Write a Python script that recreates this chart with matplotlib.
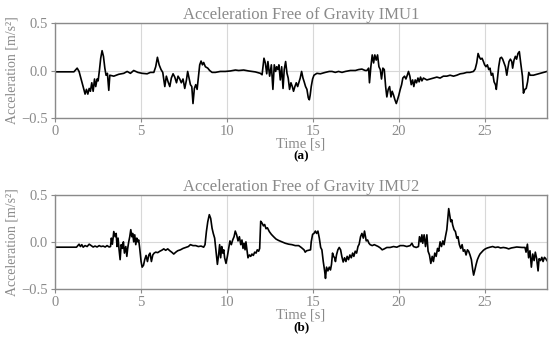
import matplotlib
matplotlib.use("Agg")
import matplotlib.pyplot as plt

# IMU1: time [s] and acceleration [m/s^2]
t1 = [0.0, 0.5, 1.1, 1.29, 1.4, 1.52, 1.6, 1.68, 1.75, 1.83, 1.91, 1.99, 2.06, 2.14, 2.22, 2.3,
      2.37, 2.45, 2.51, 2.59, 2.66, 2.74, 2.82, 2.9, 2.97, 3.05, 3.13, 3.19, 3.42, 3.71, 4.0,
      4.2, 4.39, 4.58, 4.82, 5.07, 5.36, 5.55, 5.75, 5.86, 5.96, 6.06, 6.17, 6.27, 6.39, 6.48,
      6.58, 6.68, 6.77, 6.87, 6.97, 7.07, 7.16, 7.26, 7.35, 7.45, 7.55, 7.65, 7.72, 7.8, 7.88,
      7.96, 8.03, 8.11, 8.19, 8.27, 8.34, 8.42, 8.5, 8.58, 8.65, 8.75, 8.89, 9.0, 9.14, 9.33,
      9.62, 9.91, 10.2, 10.5, 10.69, 10.98, 11.27, 11.66, 11.95, 12.05, 12.16, 12.24, 12.32,
      12.39, 12.49, 12.59, 12.68, 12.76, 12.84, 12.9, 12.97, 13.03, 13.11, 13.19, 13.27, 13.34,
      13.42, 13.5, 13.57, 13.65, 13.73, 13.81, 13.88, 13.96, 14.04, 14.12, 14.2, 14.27, 14.35,
      14.43, 14.5, 14.58, 14.66, 14.74, 14.8, 14.85, 14.91, 14.99, 15.07, 15.24, 15.44, 15.73,
      15.96, 16.12, 16.31, 16.5, 16.7, 16.9, 17.19, 17.48, 17.67, 17.86, 18.05, 18.15, 18.25,
      18.3, 18.38, 18.46, 18.54, 18.61, 18.69, 18.77, 18.85, 18.93, 19.0, 19.08, 19.16, 19.24,
      19.31, 19.39, 19.47, 19.55, 19.62, 19.7, 19.78, 19.86, 19.93, 20.01, 20.09, 20.17, 20.24,
      20.34, 20.42, 20.5, 20.57, 20.65, 20.73, 20.81, 20.88, 20.96, 21.04, 21.12, 21.19, 21.27,
      21.35, 21.44, 21.64, 21.83, 22.03, 22.22, 22.41, 22.6, 22.8, 22.99, 23.19, 23.38, 23.58,
      23.77, 23.96, 24.15, 24.35, 24.45, 24.54, 24.62, 24.7, 24.77, 24.85, 24.93, 25.0, 25.08,
      25.16, 25.24, 25.31, 25.39, 25.47, 25.55, 25.63, 25.68, 25.74, 25.82, 25.9, 25.98, 26.05,
      26.13, 26.21, 26.29, 26.34, 26.42, 26.5, 26.58, 26.63, 26.71, 26.79, 26.86, 26.94, 27.02,
      27.1, 27.2, 27.26, 27.34, 27.42, 27.5, 27.57, 27.65, 27.84, 28.04, 28.23, 28.43, 28.63]
a1 = [-0.014, -0.014, -0.014, 0.025, -0.01, -0.09, -0.14, -0.2, -0.25, -0.2, -0.25, -0.19,
      -0.22, -0.13, -0.22, -0.09, -0.17, -0.09, -0.11, 0.01, 0.13, 0.21, 0.15, 0.025, -0.05,
      -0.03, -0.21, -0.05, -0.06, -0.04, -0.03, -0.01, -0.03, 0.0, -0.02, -0.03, -0.035, -0.02,
      -0.02, 0.04, 0.14, 0.06, 0.01, -0.02, -0.17, -0.06, -0.12, -0.17, -0.08, -0.035, -0.07,
      -0.13, -0.06, -0.09, -0.13, -0.09, -0.19, -0.1, -0.01, -0.08, -0.15, -0.17, -0.35, -0.19,
      -0.15, -0.2, -0.08, 0.06, 0.1, 0.06, 0.085, 0.04, 0.025, 0.0, -0.02, -0.02, -0.01, -0.01,
      -0.005, 0.005, 0.0, 0.005, -0.005, -0.015, -0.03, -0.045, 0.13, 0.08, -0.035, 0.095, -0.06,
      0.06, -0.2, 0.06, -0.01, 0.04, 0.01, 0.06, -0.1, 0.04, -0.19, 0.01, 0.095, -0.03, -0.08,
      -0.2, -0.13, -0.17, -0.22, -0.17, -0.13, -0.17, -0.12, -0.08, -0.01, -0.08, -0.12, -0.17,
      -0.2, -0.29, -0.31, -0.26, -0.17, -0.09, -0.05, -0.03, -0.035, -0.02, -0.01, -0.01, -0.02,
      -0.01, -0.02, -0.01, 0.0, 0.0, 0.01, 0.015, 0.0, 0.0, 0.025, -0.13, 0.04, 0.165, 0.08,
      0.165, 0.11, 0.165, 0.04, 0.01, -0.09, 0.025, 0.01, -0.17, -0.28, -0.2, -0.17, -0.28,
      -0.22, -0.26, -0.31, -0.35, -0.31, -0.26, -0.2, -0.15, -0.08, -0.06, -0.09, -0.05, -0.01,
      -0.06, -0.15, -0.1, -0.17, -0.1, -0.13, -0.08, -0.12, -0.07, -0.11, -0.08, -0.1, -0.09,
      -0.08, -0.07, -0.08, -0.06, -0.06, -0.05, -0.06, -0.05, -0.035, -0.03, -0.02, -0.02,
      -0.01, 0.015, 0.08, 0.18, 0.14, 0.12, 0.13, 0.095, 0.06, 0.04, 0.06, 0.01, 0.025, -0.05,
      -0.03, -0.12, -0.15, -0.2, -0.1, 0.04, 0.13, 0.14, 0.12, 0.08, 0.04, -0.05, 0.01, 0.095,
      0.12, 0.095, 0.025, 0.11, 0.15, 0.12, 0.18, 0.2, 0.08, -0.06, -0.24, -0.2, -0.19, -0.12,
      -0.02, -0.05, -0.05, -0.04, -0.03, -0.02, -0.01]

# IMU2: time [s] and acceleration [m/s^2]
t2 = [0.0, 0.6, 1.25, 1.33, 1.4, 1.48, 1.56, 1.64, 1.75, 1.87, 1.99, 2.1, 2.22, 2.33, 2.45,
      2.57, 2.68, 2.8, 2.92, 3.03, 3.15, 3.23, 3.28, 3.34, 3.42, 3.5, 3.56, 3.61, 3.67, 3.73,
      3.79, 3.85, 3.92, 3.98, 4.04, 4.12, 4.18, 4.23, 4.29, 4.35, 4.41, 4.47, 4.52, 4.58, 4.64,
      4.7, 4.76, 4.82, 4.87, 4.93, 5.01, 5.07, 5.15, 5.22, 5.3, 5.38, 5.46, 5.53, 5.61, 5.69,
      5.77, 5.86, 5.98, 6.1, 6.21, 6.33, 6.44, 6.56, 6.68, 6.79, 6.91, 7.03, 7.14, 7.3, 7.45,
      7.61, 7.76, 7.88, 8.03, 8.19, 8.34, 8.5, 8.65, 8.73, 8.81, 8.89, 8.98, 9.06, 9.14, 9.21,
      9.29, 9.37, 9.45, 9.52, 9.58, 9.64, 9.7, 9.76, 9.82, 9.87, 9.95, 10.03, 10.11, 10.18,
      10.26, 10.34, 10.42, 10.49, 10.57, 10.65, 10.73, 10.81, 10.88, 10.94, 11.0, 11.06, 11.11,
      11.17, 11.23, 11.31, 11.39, 11.46, 11.54, 11.62, 11.7, 11.77, 11.85, 11.91, 11.97, 12.05,
      12.13, 12.2, 12.28, 12.36, 12.47, 12.59, 12.72, 12.86, 13.01, 13.21, 13.4, 13.6, 13.79,
      13.98, 14.18, 14.33, 14.49, 14.56, 14.64, 14.76, 14.87, 14.91, 14.99, 15.07, 15.15,
      15.22, 15.3, 15.38, 15.46, 15.53, 15.61, 15.69, 15.74, 15.8, 15.88, 15.96, 16.03, 16.09,
      16.15, 16.21, 16.27, 16.32, 16.38, 16.46, 16.54, 16.62, 16.69, 16.77, 16.85, 16.93, 17.0,
      17.08, 17.16, 17.24, 17.32, 17.39, 17.47, 17.55, 17.63, 17.7, 17.78, 17.86, 17.94, 18.01,
      18.05, 18.11, 18.19, 18.27, 18.34, 18.46, 18.58, 18.69, 18.81, 18.93, 19.04, 19.16, 19.31,
      19.5, 19.7, 19.89, 20.09, 20.28, 20.47, 20.67, 20.77, 20.86, 21.02, 21.15, 21.21, 21.29,
      21.35, 21.4, 21.48, 21.56, 21.64, 21.71, 21.79, 21.87, 21.95, 22.02, 22.1, 22.18, 22.26,
      22.33, 22.41, 22.49, 22.57, 22.64, 22.72, 22.8, 22.86, 22.91, 22.97, 23.03, 23.09, 23.14,
      23.22, 23.3, 23.38, 23.45, 23.53, 23.61, 23.69, 23.76, 23.84, 23.92, 24.0, 24.07, 24.15,
      24.23, 24.31, 24.36, 24.42, 24.5, 24.58, 24.66, 24.73, 24.83, 24.93, 25.04, 25.16, 25.31,
      25.47, 25.62, 25.78, 25.93, 26.09, 26.25, 26.4, 26.56, 26.71, 26.87, 27.02, 27.18, 27.35,
      27.41, 27.49, 27.56, 27.64, 27.72, 27.8, 27.88, 27.95, 28.03, 28.11, 28.17, 28.25, 28.33,
      28.4, 28.48, 28.56, 28.63]
a2 = [-0.057, -0.057, -0.057, -0.04, -0.025, -0.05, -0.03, -0.057, -0.04, -0.05, -0.025,
      -0.04, -0.055, -0.045, -0.055, -0.04, -0.05, -0.045, -0.055, -0.04, -0.055, -0.05, 0.04,
      -0.025, 0.11, 0.055, 0.09, -0.05, 0.04, -0.085, -0.19, -0.03, -0.07, 0.0, -0.12, -0.05,
      -0.155, -0.07, 0.0, 0.055, 0.13, 0.055, 0.09, 0.0, 0.075, -0.03, 0.04, 0.0, 0.02, -0.07,
      -0.21, -0.27, -0.25, -0.19, -0.145, -0.21, -0.14, -0.12, -0.21, -0.14, -0.12, -0.11,
      -0.115, -0.1, -0.09, -0.075, -0.09, -0.075, -0.095, -0.11, -0.13, -0.11, -0.095, -0.085,
      -0.07, -0.06, -0.05, -0.03, -0.04, -0.04, -0.05, -0.045, -0.057, -0.03, 0.11, 0.215, 0.29,
      0.25, 0.145, 0.09, 0.04, -0.1, -0.24, -0.14, -0.03, -0.17, -0.05, -0.12, -0.085, -0.17,
      -0.23, -0.155, -0.07, 0.01, -0.03, 0.02, 0.055, 0.115, 0.075, 0.01, 0.055, -0.03, 0.02,
      -0.07, -0.015, -0.085, 0.0, -0.085, -0.17, -0.14, -0.155, -0.13, -0.145, -0.11, -0.12,
      -0.085, -0.1, -0.07, 0.22, 0.2, 0.17, 0.185, 0.14, 0.15, 0.11, 0.08, 0.055, 0.03, 0.015,
      0.0, -0.015, -0.025, -0.03, -0.04, -0.04, -0.06, -0.085, -0.11, -0.095, -0.09, -0.085,
      0.0, 0.08, 0.09, 0.115, 0.09, 0.115, 0.04, -0.06, -0.085, -0.21, -0.31, -0.39, -0.27,
      -0.31, -0.27, -0.3, -0.24, -0.12, -0.155, -0.17, -0.21, -0.14, -0.085, -0.06, -0.085,
      -0.155, -0.215, -0.17, -0.21, -0.155, -0.19, -0.14, -0.17, -0.12, -0.155, -0.1, -0.12,
      -0.05, -0.025, 0.055, 0.09, 0.04, 0.115, 0.075, 0.01, 0.02, -0.015, -0.03, -0.04, -0.03,
      -0.04, -0.05, -0.065, -0.085, -0.075, -0.06, -0.06, -0.05, -0.057, -0.04, -0.04, -0.05,
      -0.04, -0.015, -0.05, -0.06, -0.05, 0.055, 0.0, 0.075, -0.015, 0.075, -0.05, 0.075, -0.1,
      -0.14, -0.23, -0.155, -0.21, -0.12, -0.155, -0.07, -0.1, 0.0, -0.05, 0.01, -0.03, 0.055,
      0.13, 0.25, 0.355, 0.285, 0.215, 0.235, 0.18, 0.13, 0.11, 0.04, 0.055, -0.03, -0.07, -0.03,
      -0.1, -0.085, -0.14, -0.085, -0.1, -0.14, -0.19, -0.3, -0.355, -0.31, -0.245, -0.19,
      -0.155, -0.13, -0.11, -0.09, -0.075, -0.065, -0.057, -0.05, -0.06, -0.055, -0.065, -0.06,
      -0.065, -0.075, -0.065, -0.06, -0.055, -0.057, -0.06, -0.06, -0.11, -0.025, -0.17, -0.095,
      -0.27, -0.13, -0.2, -0.11, -0.18, -0.31, -0.18, -0.2, -0.165, -0.21, -0.165, -0.18, -0.2]

titles = ["Acceleration Free of Gravity IMU1", "Acceleration Free of Gravity IMU2"]
panel_labels = ["(a)", "(b)"]
xticks = [0, 5, 10, 15, 20, 25]
yticks = [-0.5, 0.0, 0.5]

plt.rcParams['font.family'] = ['Liberation Serif', 'DejaVu Serif']
grey = '#8a8a8a'

W, H = 550, 343
fig = plt.figure(figsize=(W / 100, H / 100), dpi=100)
fig.patch.set_facecolor('white')

axes_px = [(55, 23.3, 547, 117.7), (55, 195, 547, 288.7)]
series = [(t1, a1), (t2, a2)]
label_y = [156, 327]

for i, ((l, tp, r, b), (t, a)) in enumerate(zip(axes_px, series)):
    ax = fig.add_axes([l / W, 1 - b / H, (r - l) / W, (b - tp) / H])
    ax.plot(t, a, color='black', lw=1.2)
    ax.set_xlim(0, 28.63)
    ax.set_ylim(-0.5, 0.5)
    ax.set_xticks(xticks)
    ax.set_yticks(yticks)
    ax.set_yticklabels([f"{v:.1f}".replace('-', '\u2212') for v in yticks])
    ax.grid(True, color='#d8d8d8', lw=0.8)
    ax.set_axisbelow(True)
    for s in ax.spines.values():
        s.set_color(grey)
        s.set_linewidth(1.0)
    ax.tick_params(colors=grey, labelcolor=grey, labelsize=10.5, length=3, width=0.8, pad=2)
    ax.set_title(titles[i], color=grey, fontsize=12, pad=2)
    ax.set_xlabel("Time [s]", color=grey, fontsize=10.5, labelpad=0)
    ax.set_ylabel("Acceleration [m/s\u00b2]", color=grey, fontsize=10, labelpad=2)
    fig.text((l + r) / 2 / W, 1 - label_y[i] / H, panel_labels[i], ha='center', va='center',
             fontsize=9.5, fontweight='bold', color='black')

fig.savefig("out.png", dpi=100)
